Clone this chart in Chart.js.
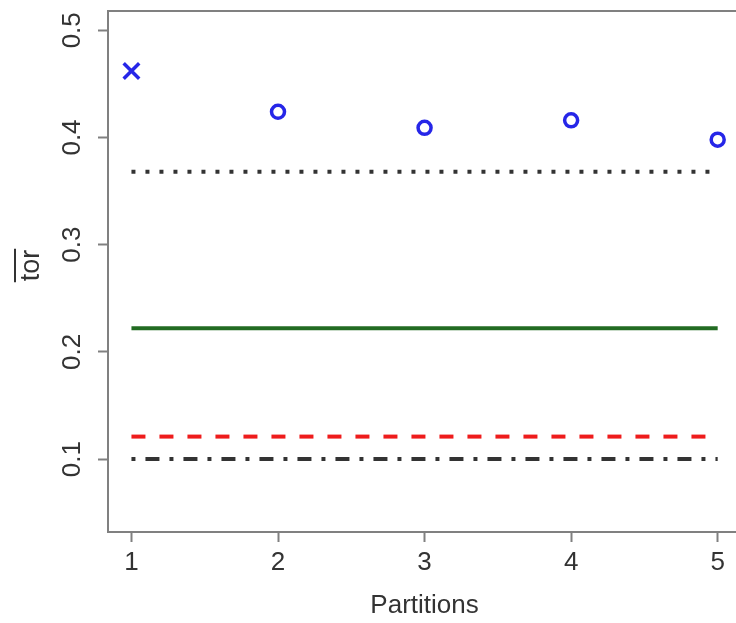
<!DOCTYPE html>
<html><head><meta charset="utf-8">
<script src="https://cdn.jsdelivr.net/npm/chart.js@4.4.1/dist/chart.umd.min.js"></script>
<style>html,body{margin:0;padding:0;overflow:hidden;background:#fff}#wrap{width:736px;height:623px}</style>
</head><body><div id="wrap"><canvas id="c" width="736" height="623"></canvas></div>
<script>
// ---- data ----
const partitions = [1, 2, 3, 4, 5];
const torValues = [0.462, 0.424, 0.409, 0.416, 0.398];
const torMarkers = ['crossRot', 'circle', 'circle', 'circle', 'circle'];
const refDotted = 0.368;
const refSolidGreen = 0.222;
const refDashedRed = 0.121;
const refDashDot = 0.100;
const xTickValues = [1, 2, 3, 4, 5];
const yTickValues = [0.1, 0.2, 0.3, 0.4, 0.5];
const xTitle = 'Partitions';
const yTitle = 'tor';

const FONT = '"Liberation Sans", Arial, sans-serif';
const TEXT = '#333333';
const BOX = '#808080';

function hline(v) {
  return [{x: partitions[0], y: v}, {x: partitions[partitions.length - 1], y: v}];
}
function lineDs(v, color, dash, width) {
  return {data: hline(v), borderColor: color, borderWidth: width, borderDash: dash,
    borderCapStyle: 'butt', pointRadius: 0, showLine: true, fill: false};
}

const boxPlugin = {
  id: 'boxAndLabels',
  afterDraw(chart) {
    const ctx = chart.ctx, a = chart.chartArea, ys = chart.scales.y, xs = chart.scales.x;
    ctx.save();
    // top edge of the plot box (right edge lies outside the cropped picture)
    ctx.strokeStyle = BOX; ctx.lineWidth = 2;
    ctx.beginPath();
    ctx.moveTo(a.left, a.top); ctx.lineTo(a.right, a.top);
    ctx.stroke();
    ctx.fillStyle = TEXT;
    ctx.font = '26px ' + FONT;
    ctx.textAlign = 'center'; ctx.textBaseline = 'middle';
    // x tick labels
    xTickValues.forEach(v => {
      ctx.fillText(String(v), xs.getPixelForValue(v), a.bottom + 31);
    });
    // y tick labels (rotated, R style)
    yTickValues.forEach(v => {
      const y = ys.getPixelForValue(v);
      ctx.save(); ctx.translate(73, y); ctx.rotate(-Math.PI / 2);
      ctx.fillText(v.toFixed(1), 0, 0);
      ctx.restore();
    });
    // x title
    const xc = (xs.getPixelForValue(xTickValues[0]) + xs.getPixelForValue(xTickValues[xTickValues.length - 1])) / 2;
    ctx.fillText(xTitle, xc, a.bottom + 74);
    // y title with overline
    const cy = (a.top + a.bottom) / 2 - 6;
    ctx.save(); ctx.translate(32, cy); ctx.rotate(-Math.PI / 2);
    ctx.font = '27px ' + FONT;
    ctx.fillText(yTitle, 0, 0);
    const w = ctx.measureText(yTitle).width;
    ctx.strokeStyle = TEXT; ctx.lineWidth = 2;
    ctx.beginPath(); ctx.moveTo(-w / 2 - 1, -17); ctx.lineTo(w / 2 + 1, -17); ctx.stroke();
    ctx.restore();
    ctx.restore();
  }
};

new Chart(document.getElementById('c'), {
  type: 'scatter',
  data: {
    datasets: [
      lineDs(refDotted, '#333333', [4, 10], 4),
      lineDs(refSolidGreen, '#226b22', [], 4),
      lineDs(refDashedRed, '#ee1c1c', [14, 14], 4),
      lineDs(refDashDot, '#333333', [4, 10, 14, 10], 4),
      {
        data: partitions.map((p, i) => ({x: p, y: torValues[i]})),
        pointStyle: torMarkers,
        pointRadius: [11, 6.5, 6.5, 6.5, 6.5],
        pointBorderWidth: 3.5,
        pointBorderColor: '#2626e8',
        pointBackgroundColor: 'rgba(0,0,0,0)',
        showLine: false
      }
    ]
  },
  options: {
    responsive: false, animation: false, devicePixelRatio: 1,
    layout: {autoPadding: false, padding: {top: 11, right: 0, left: 0, bottom: 0}},
    plugins: {legend: {display: false}, tooltip: {enabled: false}},
    scales: {
      x: {
        type: 'linear', min: 0.84, max: 5.125,
        afterBuildTicks: s => { s.ticks = xTickValues.map(v => ({value: v})); },
        afterFit: s => { s.height = 91; s.paddingLeft = 0; s.paddingRight = 0; },
        grid: {drawOnChartArea: false, drawTicks: true, tickLength: 10, tickColor: BOX, tickWidth: 2},
        border: {display: true, color: BOX, width: 2},
        ticks: {display: false}
      },
      y: {
        type: 'linear', min: 0.032, max: 0.518,
        afterBuildTicks: s => { s.ticks = yTickValues.map(v => ({value: v})); },
        afterFit: s => { s.width = 108; s.paddingTop = 0; s.paddingBottom = 0; },
        grid: {drawOnChartArea: false, drawTicks: true, tickLength: 10, tickColor: BOX, tickWidth: 2},
        border: {display: true, color: BOX, width: 2},
        ticks: {display: false}
      }
    }
  },
  plugins: [boxPlugin]
});
</script>
</body></html>
